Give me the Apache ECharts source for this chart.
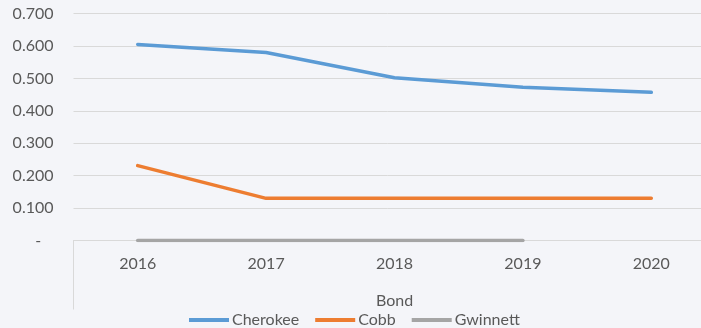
<!DOCTYPE html>
<html>
<head>
<meta charset="utf-8">
<script src="https://cdn.jsdelivr.net/npm/echarts@6/dist/echarts.min.js"></script>
<style>
html,body{margin:0;padding:0;background:#f4f5f9;}
#c{width:701px;height:328px;}
</style>
</head>
<body>
<div id="c"></div>
<script>
const categories = ['2016', '2017', '2018', '2019', '2020'];
const cherokee = [0.605, 0.580, 0.502, 0.473, 0.457];
const cobb = [0.231, 0.130, 0.130, 0.130, 0.130];
const gwinnett = [0, 0, 0, 0, null];
const seriesNames = ['Cherokee', 'Cobb', 'Gwinnett'];
const colors = ['#5B9BD5', '#ED7D31', '#A5A5A5'];
const axisName = 'Bond';

const FONT = "Lato, sans-serif";
const FS = 16;
const chart = echarts.init(document.getElementById('c'));
const mk = (name, data, color) => ({
  name, type: 'line', data, symbol: 'none', showSymbol: false,
  lineStyle: { color, width: 3.5, cap: 'round', join: 'round' },
  itemStyle: { color },
  connectNulls: false, animation: false
});
chart.setOption({
  backgroundColor: '#f4f5f9',
  animation: false,
  textStyle: { fontFamily: FONT },
  grid: { left: 73.5, width: 642, top: 13.6, height: 226.9, containLabel: false, outerBoundsMode: 'none' },
  xAxis: {
    type: 'category', data: categories, boundaryGap: true,
    name: axisName, nameLocation: 'middle', nameGap: 52,
    nameTextStyle: { color: '#595959', fontSize: FS, fontFamily: FONT },
    axisLine: { show: true, lineStyle: { color: '#d9d9d9', width: 1 } },
    axisTick: { show: true, length: 69, interval: (i) => i === 0, lineStyle: { color: '#d9d9d9', width: 1 } },
    axisLabel: { color: '#595959', fontSize: FS, margin: 15, fontFamily: FONT },
    splitLine: { show: false }
  },
  yAxis: {
    type: 'value', min: 0, max: 0.7, interval: 0.1,
    axisLine: { show: false }, axisTick: { show: false },
    axisLabel: { color: '#595959', fontSize: FS, margin: 20, fontFamily: FONT,
      formatter: (v) => (Math.abs(v) < 1e-9 ? '-   ' : v.toFixed(3)) },
    splitLine: { lineStyle: { color: '#d9d9d9', width: 1 } }
  },
  legend: {
    data: seriesNames, left: 184, top: 307, itemWidth: 40, itemHeight: 4, itemGap: 16,
    icon: 'rect',
    textStyle: { color: '#595959', fontSize: FS, fontFamily: FONT, padding: [0, 0, 0, -2] }
  },
  series: [mk(seriesNames[0], cherokee, colors[0]), mk(seriesNames[1], cobb, colors[1]), mk(seriesNames[2], gwinnett, colors[2])]
});
</script>
</body>
</html>
